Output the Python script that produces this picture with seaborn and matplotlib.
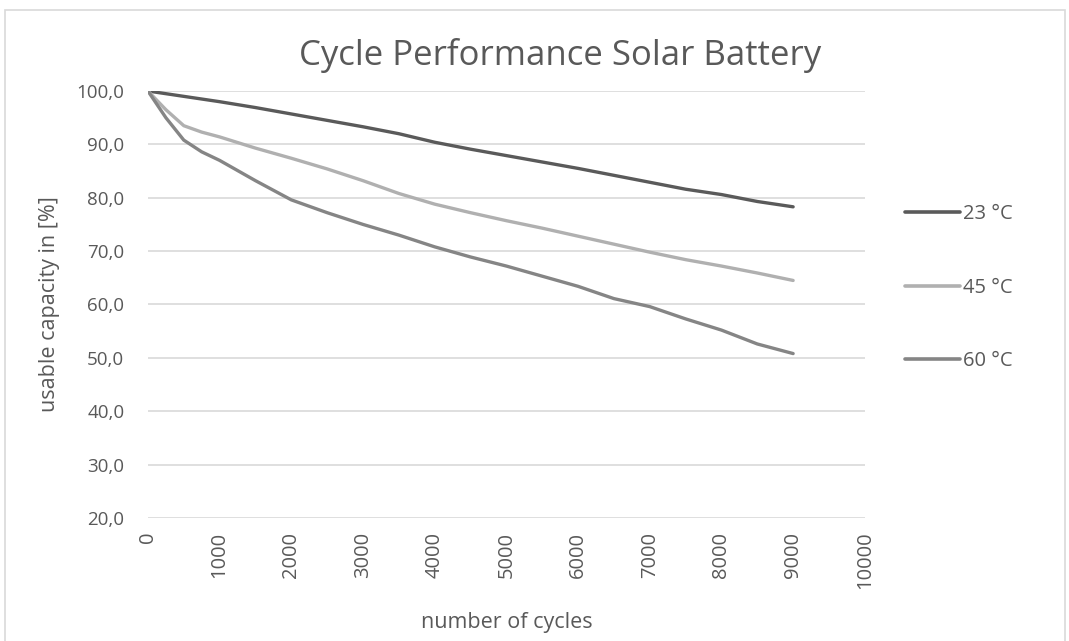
import matplotlib
matplotlib.use("Agg")
import matplotlib.pyplot as plt
import matplotlib.ticker as mticker
from matplotlib.patches import Rectangle
import seaborn as sns
import pandas as pd

# values
cycles_23 = [0, 500, 1000, 1500, 2000, 2500, 3000, 3500, 4000, 4500,
             5000, 5500, 6000, 6500, 7000, 7500, 8000, 8500, 9000]
cap_23 = [100.0, 99.0, 98.0, 96.9, 95.7, 94.5, 93.3, 92.0, 90.4, 89.1,
          87.9, 86.7, 85.5, 84.2, 82.9, 81.6, 80.6, 79.3, 78.3]

cycles_hot = [0, 250, 500, 750, 1000, 1500, 2000, 2500, 3000, 3500, 4000,
              4500, 5000, 5500, 6000, 6500, 7000, 7500, 8000, 8500, 9000]
cap_45 = [100.0, 96.5, 93.5, 92.3, 91.4, 89.3, 87.4, 85.4, 83.2, 80.8, 78.8,
          77.2, 75.7, 74.3, 72.8, 71.3, 69.8, 68.4, 67.2, 65.9, 64.5]
cap_60 = [100.0, 95.0, 90.8, 88.6, 87.0, 83.2, 79.6, 77.2, 75.0, 73.0, 70.8,
          68.9, 67.2, 65.3, 63.4, 61.1, 59.6, 57.3, 55.2, 52.6, 50.8]

labels = ["23 °C", "45 °C", "60 °C"]
colors = {"23 °C": "#5a5a5a", "45 °C": "#b0b0b0", "60 °C": "#858585"}

df = pd.concat([
    pd.DataFrame({"cycles": cycles_23, "capacity": cap_23, "temp": labels[0]}),
    pd.DataFrame({"cycles": cycles_hot, "capacity": cap_45, "temp": labels[1]}),
    pd.DataFrame({"cycles": cycles_hot, "capacity": cap_60, "temp": labels[2]}),
])

sns.set_theme(style="white")
plt.rcParams["font.family"] = ["Open Sans", "DejaVu Sans"]
text_col = "#595959"

fig = plt.figure(figsize=(10.69, 6.41), dpi=100)
ax = fig.add_axes([0.1384, 0.192, 0.6706, 0.666])

sns.lineplot(data=df, x="cycles", y="capacity", hue="temp", palette=colors,
             hue_order=labels, linewidth=2.4, ax=ax, legend=True,
             solid_capstyle="round")

ax.set_xlim(0, 10000)
ax.set_ylim(20, 100)
ax.xaxis.set_major_locator(mticker.MultipleLocator(1000))
ax.yaxis.set_major_locator(mticker.MultipleLocator(10))
ax.yaxis.set_major_formatter(mticker.FuncFormatter(lambda v, p: f"{v:.1f}".replace(".", ",")))
ax.grid(axis="y", color="#d9d9d9", linewidth=1.2)
ax.set_axisbelow(True)
for s in ax.spines.values():
    s.set_visible(False)
ax.tick_params(axis="both", length=0, colors=text_col)
ax.tick_params(axis="x", rotation=90, pad=10, labelsize=14.5)
ax.tick_params(axis="y", pad=17, labelsize=13.5)

ax.set_xlabel("number of cycles", fontsize=15.5, color=text_col, labelpad=16)
ax.set_ylabel("usable capacity in [%]", fontsize=15.5, color=text_col, labelpad=12)
fig.text(0.524, 0.914, "Cycle Performance Solar Battery", fontsize=25,
         color=text_col, ha="center", va="center")

leg = ax.legend(loc="center left", bbox_to_anchor=(0.830, 0.551),
                bbox_transform=fig.transFigure, frameon=False, fontsize=14.5,
                labelspacing=2.65, handlelength=2.7, handletextpad=0.15)
for t in leg.get_texts():
    t.set_color(text_col)
for h in leg.get_lines():
    h.set_linewidth(2.6)

fig.add_artist(Rectangle((0.005, -0.01), 0.991, 0.994, transform=fig.transFigure,
                         fill=False, edgecolor="#d9d9d9", linewidth=1.2))

fig.savefig("out.png", dpi=100)
